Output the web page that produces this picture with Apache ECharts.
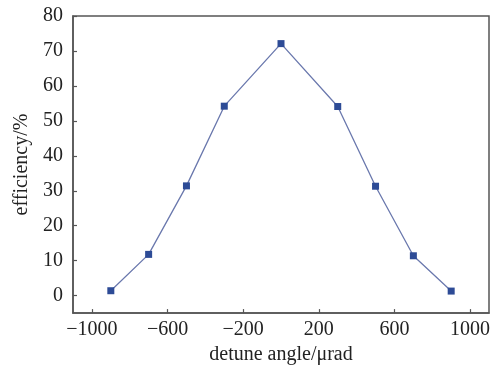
<!DOCTYPE html>
<html><head><meta charset="utf-8">
<script src="https://cdn.jsdelivr.net/npm/echarts@6/dist/echarts.min.js"></script>
<style>html,body{margin:0;padding:0;background:#fff}#c{width:499px;height:370px}</style>
</head><body><div id="c"></div>
<script>
const angles = [-900, -700, -500, -300, 0, 300, 500, 700, 900];
const efficiency = [1.4, 11.8, 31.4, 54.2, 72.1, 54.1, 31.3, 11.4, 1.3];
const xTicks = [-1000, -600, -200, 200, 600, 1000];
const yTicks = [0, 10, 20, 30, 40, 50, 60, 70, 80];

const font = 'Liberation Serif';
const chart = echarts.init(document.getElementById('c'));
chart.setOption({
  animation: false,
  backgroundColor: '#fff',
  grid: { left: 73, right: 10, top: 16, bottom: 52, show: true, borderColor: '#555', borderWidth: 1.5, backgroundColor: 'transparent' },
  xAxis: {
    type: 'value', min: -1100, max: 1100,
    name: 'detune angle/μrad', nameLocation: 'middle', nameGap: 26,
    nameTextStyle: { fontFamily: font, fontSize: 20, color: '#222' },
    axisLine: { onZero: false, lineStyle: { color: '#555', width: 1.5 } },
    axisTick: { inside: true, length: 4, customValues: xTicks, lineStyle: { color: '#555', width: 1.2 } },
    axisLabel: { customValues: xTicks, fontFamily: font, fontSize: 20, color: '#222', margin: 7,
      formatter: v => String(v).replace('-', '\u2212') },
    splitLine: { show: false }
  },
  yAxis: {
    type: 'value', min: -5, max: 80,
    name: 'efficiency/%', nameLocation: 'middle', nameGap: 41,
    nameTextStyle: { fontFamily: font, fontSize: 20, color: '#222' },
    axisLine: { onZero: false, lineStyle: { color: '#555', width: 1.5 } },
    axisTick: { inside: true, length: 4, customValues: yTicks, lineStyle: { color: '#555', width: 1.2 } },
    axisLabel: { customValues: yTicks, fontFamily: font, fontSize: 20, color: '#222', margin: 10 },
    splitLine: { show: false }
  },
  series: [{
    type: 'line',
    data: angles.map((a, i) => [a, efficiency[i]]),
    symbol: 'rect', symbolSize: 7,
    itemStyle: { color: '#2d4b96' },
    lineStyle: { color: '#6a78ad', width: 1.3 }
  }]
});
</script></body></html>
